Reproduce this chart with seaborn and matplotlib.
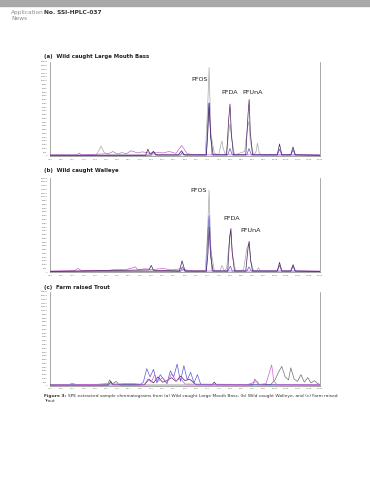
import matplotlib
matplotlib.use("Agg")
import matplotlib.pyplot as plt
import seaborn as sns

sns.set_style("white")
plt.rcParams['font.family'] = ['DejaVu Sans']

# retention time ticks (min) and intensity ticks
x_ticks = [i * 0.5 for i in range(25)]
y_ticks = [i * 500 for i in range(26)]

GRAY = "#a8a8a8"
PURPLE = "#4b1f5c"
BLUE = "#5a5ad8"
MAGENTA = "#d060d8"

# ---- (a) Wild caught Large Mouth Bass ----
a_gray_t = [0, 2.05, 2.2, 2.27, 2.4, 2.6, 5.8, 6.9, 7.0, 7.07, 7.15, 7.3, 7.5, 7.6, 7.64, 7.7, 7.8, 7.85, 7.95, 8.0, 8.08, 8.2, 8.65, 8.78, 8.84, 8.9, 9.05, 9.15, 9.22, 9.3, 9.4, 12]
a_gray_v = [120, 120, 900, 1300, 500, 150, 150, 200, 6000, 11750, 3000, 400, 150, 1600, 2000, 1000, 150, 600, 3200, 4300, 2200, 150, 600, 3900, 4600, 2000, 150, 500, 1700, 400, 120, 120]
a_purple_t = [0, 4.25, 4.35, 4.45, 4.6, 4.7, 4.8, 5.7, 5.85, 5.95, 6.95, 7.02, 7.07, 7.14, 7.25, 7.85, 7.94, 8.0, 8.06, 8.15, 8.7, 8.8, 8.85, 8.9, 9.0, 10.1, 10.2, 10.3, 10.7, 10.8, 10.9, 12]
a_purple_v = [100, 100, 900, 250, 600, 200, 150, 150, 700, 150, 150, 3500, 7000, 2500, 150, 150, 4800, 6900, 3000, 150, 150, 5500, 7500, 3200, 150, 150, 1600, 150, 150, 1200, 150, 100]
a_blue_t = [0, 4.5, 4.6, 4.7, 5.8, 5.88, 6.0, 6.95, 7.02, 7.07, 7.12, 7.2, 7.9, 8.0, 8.1, 8.75, 8.84, 8.95, 10.1, 10.2, 10.3, 10.7, 10.8, 10.9, 12]
a_blue_v = [100, 100, 600, 120, 120, 500, 120, 120, 5000, 7100, 4000, 150, 150, 1000, 150, 150, 1000, 150, 150, 900, 150, 150, 800, 150, 100]
a_mag_t = [0, 1.2, 1.3, 1.4, 2.6, 2.8, 3.0, 3.2, 3.4, 3.6, 3.9, 4.1, 4.5, 4.8, 5.0, 5.3, 5.6, 5.85, 6.1, 6.5, 12]
a_mag_v = [150, 150, 400, 150, 300, 600, 250, 450, 300, 700, 400, 550, 350, 500, 400, 600, 350, 1400, 300, 150, 150]

# ---- (b) Wild caught Walleye ----
b_gray_t = [0, 6.9, 7.0, 7.07, 7.15, 7.3, 7.55, 7.64, 7.75, 7.85, 7.95, 8.02, 8.1, 8.25, 8.6, 8.75, 8.84, 8.92, 9.05, 9.2, 9.26, 9.35, 12]
b_gray_v = [120, 200, 5000, 10900, 3000, 200, 150, 900, 150, 500, 3500, 5500, 2500, 150, 300, 3200, 3800, 1500, 150, 150, 600, 150, 120]
b_purple_t = [0, 4.4, 4.5, 4.6, 5.75, 5.87, 6.0, 6.95, 7.02, 7.07, 7.14, 7.25, 7.9, 7.98, 8.04, 8.1, 8.2, 8.7, 8.8, 8.85, 8.92, 9.0, 10.1, 10.2, 10.3, 10.7, 10.8, 10.9, 12]
b_purple_v = [100, 300, 900, 250, 150, 1500, 150, 150, 2500, 6000, 2000, 150, 150, 4500, 5800, 2500, 150, 150, 3200, 4100, 1500, 150, 150, 1300, 150, 150, 1000, 150, 100]
b_blue_t = [0, 5.8, 5.88, 6.0, 6.95, 7.02, 7.07, 7.12, 7.2, 7.9, 8.02, 8.1, 8.75, 8.84, 8.95, 10.1, 10.2, 10.3, 10.7, 10.8, 10.9, 12]
b_blue_v = [100, 100, 700, 120, 120, 5500, 7500, 4500, 150, 150, 800, 150, 150, 700, 150, 150, 900, 150, 150, 800, 150, 100]
b_mag_t = [0, 1.1, 1.25, 1.4, 2.5, 3.0, 3.3, 3.6, 3.8, 3.9, 4.2, 4.6, 5.0, 5.4, 5.8, 6.3, 12]
b_mag_v = [150, 200, 500, 200, 200, 400, 300, 500, 700, 300, 450, 350, 500, 300, 450, 150, 150]

# ---- (c) Farm raised Trout ----
c_gray_t = [0, 2.55, 2.65, 2.75, 2.95, 3.05, 3.15, 9.0, 9.1, 9.2, 9.3, 9.8, 10.0, 10.15, 10.3, 10.45, 10.6, 10.7, 10.85, 11.0, 11.15, 11.3, 11.45, 11.6, 11.75, 11.9, 12]
c_gray_v = [120, 120, 800, 250, 600, 200, 120, 120, 900, 500, 150, 150, 800, 1800, 2600, 1200, 800, 2400, 900, 600, 1500, 500, 1100, 400, 700, 300, 200]
c_blue_t = [0, 4.0, 4.15, 4.3, 4.45, 4.6, 4.75, 4.9, 5.05, 5.2, 5.35, 5.5, 5.65, 5.8, 5.95, 6.1, 6.25, 6.4, 6.55, 6.7, 7.0, 12]
c_blue_v = [120, 120, 500, 2300, 1200, 2200, 400, 1500, 900, 300, 2000, 1200, 2900, 600, 2700, 800, 1800, 400, 1500, 200, 150, 120]
c_purple_t = [0, 2.6, 2.7, 2.8, 4.2, 4.4, 4.6, 4.8, 5.0, 5.2, 5.4, 5.6, 5.8, 6.0, 6.2, 6.5, 7.2, 7.3, 7.4, 12]
c_purple_v = [120, 120, 600, 150, 150, 900, 400, 1200, 500, 700, 1100, 600, 1300, 700, 900, 150, 150, 500, 150, 120]
c_mag_t = [0, 0.8, 1.0, 1.2, 2.0, 2.5, 3.0, 3.5, 4.2, 4.35, 4.5, 4.65, 4.8, 5.0, 5.2, 5.4, 5.6, 5.8, 6.0, 8.8, 9.2, 9.3, 9.6, 9.75, 9.85, 9.95, 10.1, 12]
c_mag_v = [150, 150, 350, 150, 200, 300, 250, 350, 200, 900, 500, 1500, 600, 1100, 400, 1600, 700, 1000, 250, 200, 600, 200, 300, 1800, 2800, 600, 150, 150]

panels = [
    ("(a)  Wild caught Large Mouth Bass",
     [(a_gray_t, a_gray_v, GRAY), (a_mag_t, a_mag_v, MAGENTA), (a_blue_t, a_blue_v, BLUE), (a_purple_t, a_purple_v, PURPLE)],
     [("PFOS", 6.67, 10100), ("PFDA", 8.0, 8400), ("PFUnA", 9.0, 8400)]),
    ("(b)  Wild caught Walleye",
     [(b_gray_t, b_gray_v, GRAY), (b_mag_t, b_mag_v, MAGENTA), (b_blue_t, b_blue_v, BLUE), (b_purple_t, b_purple_v, PURPLE)],
     [("PFOS", 6.62, 10800), ("PFDA", 8.08, 7100), ("PFUnA", 8.9, 5500)]),
    ("(c)  Farm raised Trout",
     [(c_gray_t, c_gray_v, "#707070"), (c_purple_t, c_purple_v, PURPLE), (c_blue_t, c_blue_v, BLUE), (c_mag_t, c_mag_v, MAGENTA)],
     []),
]

fig = plt.figure(figsize=(3.7, 4.8), dpi=100)

# header band
fig.patches.append(plt.Rectangle((0, 0.988), 1, 0.012, transform=fig.transFigure, color="#a8a8a8"))
fig.text(0.03, 0.973, "Application", fontsize=4.2, color="#8a8a8a", va="center")
fig.text(0.03, 0.962, "News", fontsize=4.2, color="#8a8a8a", va="center")
fig.text(0.118, 0.973, "No. SSI-HPLC-037", fontsize=4.2, color="#333333", fontweight="bold", va="center")

bottoms = [0.675, 0.433, 0.196]
title_y = [0.883, 0.644, 0.402]
axes = []
for (title, traces, labels), b, ty in zip(panels, bottoms, title_y):
    ax = fig.add_axes([0.135, b, 0.73, 0.196])
    axes.append(ax)
    for t, v, c in traces:
        sns.lineplot(x=t, y=v, ax=ax, color=c, lw=0.5, estimator=None, sort=False)
    for name, x, y in labels:
        ax.text(x, y, name, fontsize=4.6, ha="center", va="center", color="#222222")
    ax.set_xlim(0, 12)
    ax.set_ylim(0, 12500)
    ax.set_xticks(x_ticks)
    ax.set_yticks(y_ticks)
    ax.set_xticklabels([f"{x:.2f}" for x in x_ticks], fontsize=1.6, color="#666666")
    ax.set_yticklabels([str(y) for y in y_ticks], fontsize=1.6, color="#666666")
    ax.tick_params(length=1, width=0.3, pad=0.8, colors="#666666")
    ax.spines["top"].set_visible(False)
    for s in ["left", "right", "bottom"]:
        ax.spines[s].set_linewidth(0.4)
        ax.spines[s].set_color("#666666")
    fig.text(0.12, ty, title, fontsize=3.9, fontweight="bold", color="#222222", va="center")

# caption: bold label followed by plain text placed right after it
lab = fig.text(0.12, 0.176, "Figure 3:", fontsize=3.15, fontweight="bold", color="#333333", va="center")
axes[-1].annotate("SPE extracted sample chromatograms from (a) Wild caught Large Mouth Bass, (b) Wild caught Walleye, and (c) Farm raised",
                  xy=(1, 0.5), xycoords=lab, xytext=(1.2, 0), textcoords="offset points",
                  fontsize=3.15, color="#333333", va="center", ha="left", annotation_clip=False)
fig.text(0.12, 0.165, "Trout", fontsize=3.15, color="#333333", va="center")

fig.savefig("out.png", dpi=100)
